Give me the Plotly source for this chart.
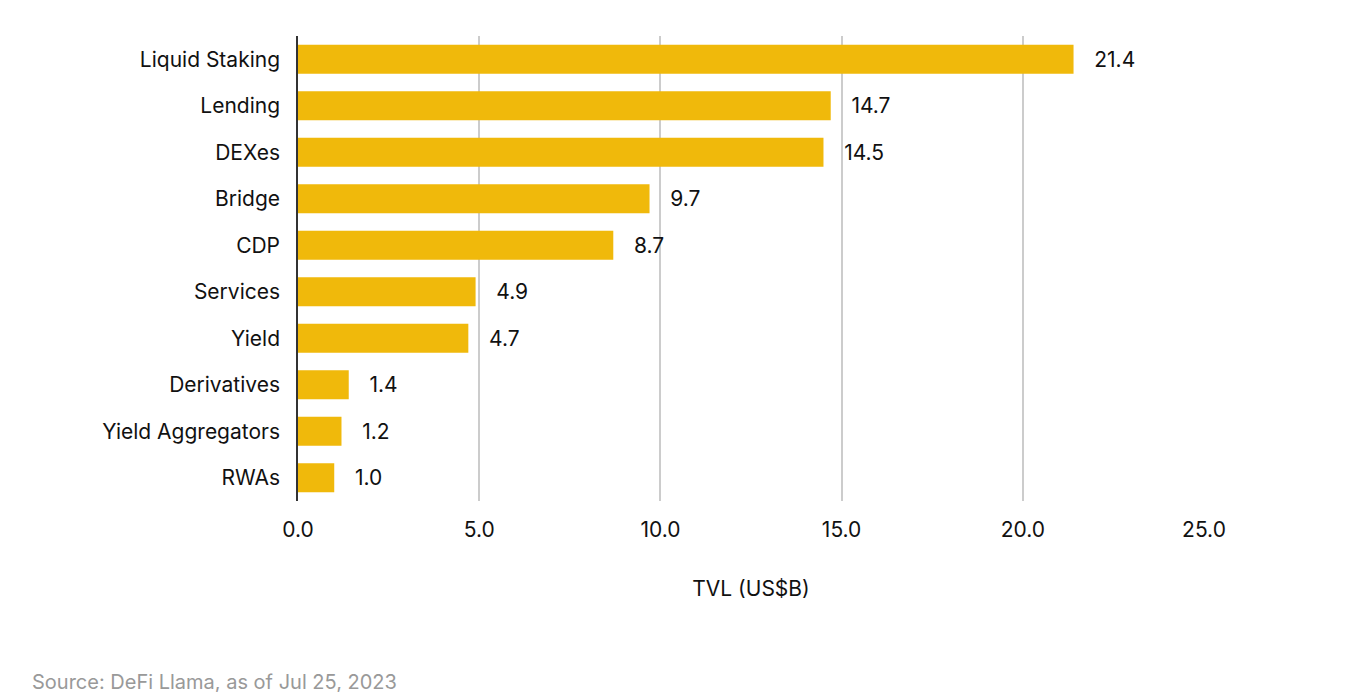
import plotly.graph_objects as go

categories = ["Liquid Staking", "Lending", "DEXes", "Bridge", "CDP", "Services",
              "Yield", "Derivatives", "Yield Aggregators", "RWAs"]
tvl = [21.4, 14.7, 14.5, 9.7, 8.7, 4.9, 4.7, 1.4, 1.2, 1.0]
tick_vals = [0, 5, 10, 15, 20, 25]
tick_text = ["0.0", "5.0", "10.0", "15.0", "20.0", "25.0"]

font_family = "Inter, Liberation Sans, Arial, sans-serif"

fig = go.Figure(
    go.Bar(
        x=tvl,
        y=categories,
        orientation="h",
        marker=dict(color="#F0B90B", line=dict(width=0)),
        width=0.62,
        text=[f"{v:.1f}" for v in tvl],
        texttemplate="   %{text}",
        textposition="outside",
        textfont=dict(size=21, color="#111111", family=font_family),
        cliponaxis=False,
    )
)

fig.update_layout(
    width=1353,
    height=692,
    plot_bgcolor="white",
    paper_bgcolor="white",
    margin=dict(l=290, r=157, t=28, b=199),
    font=dict(family=font_family, size=21, color="#111111"),
    showlegend=False,
    xaxis=dict(
        range=[0, 25],
        tickvals=tick_vals,
        ticktext=tick_text,
        showgrid=True,
        gridcolor="#cccccc",
        gridwidth=1.5,
        zeroline=False,
        showline=False,
        ticks="",
        ticklabelstandoff=14,
        automargin=False,
        title=dict(text="TVL (US$B)", standoff=40, font=dict(size=21)),
    ),
    yaxis=dict(
        categoryorder="array",
        categoryarray=categories[::-1],
        showline=True,
        linecolor="#333333",
        linewidth=1.5,
        showgrid=False,
        ticks="",
        ticklabelstandoff=12,
        automargin=False,
    ),
)

fig.add_annotation(
    text="Source: DeFi Llama, as of Jul 25, 2023",
    xref="paper", yref="paper", x=-268 / 906, y=-0.39,
    xanchor="left", yanchor="middle", showarrow=False,
    font=dict(size=20, color="#999999", family=font_family),
)

fig.write_html("out.html")
